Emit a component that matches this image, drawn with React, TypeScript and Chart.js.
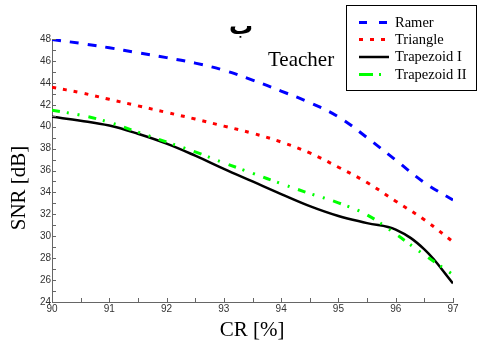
import React, { useEffect, useRef } from 'react';
import { Chart, registerables } from 'chart.js';

Chart.register(...registerables);

const crValues = [90, 90.5, 91, 91.5, 92, 92.5, 93, 93.5, 94, 94.5, 95, 95.5, 96, 96.5, 97];
const ramer = [47.95, 47.6, 47.2, 46.75, 46.3, 45.8, 45.15, 44.25, 43.25, 42.2, 40.9, 39.0, 36.95, 34.9, 33.3];
const triangle = [43.6, 43.1, 42.5, 41.9, 41.3, 40.7, 40.05, 39.4, 38.6, 37.6, 36.3, 34.9, 33.2, 31.5, 29.5];
const trapezoidI = [40.9, 40.55, 40.1, 39.35, 38.45, 37.35, 36.15, 35.0, 33.85, 32.75, 31.85, 31.2, 30.6, 28.8, 25.7];
const trapezoidII = [41.5, 41.05, 40.4, 39.5, 38.6, 37.7, 36.7, 35.75, 34.8, 33.9, 33.05, 31.95, 30.2, 28.3, 26.5];

const seriesNames = ['Ramer', 'Triangle', 'Trapezoid I', 'Trapezoid II'];
const seriesColors = ['#0000ff', '#ff0000', '#000000', '#00ff00'];
const seriesDashes = [[9, 9], [4, 7], [], [8, 7, 2, 9, 2, 9]];

const xMin = 90;
const xMax = 97;
const yMin = 24;
const yMax = 48;
const xLabel = 'CR [%]';
const yLabel = 'SNR [dB]';
const arabicTitle = 'ب';
const subTitle = 'Teacher';

const SERIF = "'Liberation Serif', 'Times New Roman', serif";
const SANS = "'Liberation Sans', Arial, sans-serif";

export default function App() {
  const ref = useRef<HTMLCanvasElement | null>(null);

  useEffect(() => {
    const canvas = ref.current;
    if (!canvas) return;
    const all = [ramer, triangle, trapezoidI, trapezoidII];
    const orders = [1, 2, 3, 0];
    const datasets = all.map((vals, i) => ({
      label: seriesNames[i],
      data: crValues.map((x, j) => ({ x, y: vals[j] })),
      borderColor: seriesColors[i],
      backgroundColor: seriesColors[i],
      borderDash: seriesDashes[i],
      borderWidth: i === 2 ? 2.5 : 3,
      pointRadius: 0,
      fill: false,
      tension: 0.4,
      order: orders[i],
    }));

    const overlay = {
      id: 'overlay',
      afterDraw(chart: any) {
        const ctx = chart.ctx as CanvasRenderingContext2D;
        const xs = chart.scales.x;
        const ys = chart.scales.y;
        const area = chart.chartArea;
        ctx.save();
        // inward ticks
        ctx.strokeStyle = '#666';
        ctx.lineWidth = 1;
        ctx.beginPath();
        for (let v = xMin; v <= xMax + 1e-9; v += 0.5) {
          const px = Math.round(xs.getPixelForValue(v)) + 0.5;
          ctx.moveTo(px, area.bottom);
          ctx.lineTo(px, area.bottom - 4);
        }
        for (let v = yMin; v <= yMax; v += 1) {
          const py = Math.round(ys.getPixelForValue(v)) + 0.5;
          ctx.moveTo(area.left, py);
          ctx.lineTo(area.left + 4, py);
        }
        ctx.stroke();

        // axis titles
        ctx.fillStyle = '#000';
        ctx.font = `21px ${SERIF}`;
        ctx.textAlign = 'center';
        ctx.textBaseline = 'middle';
        ctx.fillText(xLabel, 252, 330);
        ctx.save();
        ctx.translate(19, 188);
        ctx.rotate(-Math.PI / 2);
        ctx.fillText(yLabel, 0, 0);
        ctx.restore();

        // titles
        ctx.font = `bold 24px 'DejaVu Sans', sans-serif`;
        ctx.textAlign = 'center';
        ctx.textBaseline = 'alphabetic';
        ctx.fillText(arabicTitle, 241, 34);
        ctx.font = `21px ${SERIF}`;
        ctx.textAlign = 'left';
        ctx.fillText(subTitle, 268, 66);

        // legend
        ctx.fillStyle = '#fff';
        ctx.fillRect(346, 5, 131, 86);
        ctx.strokeStyle = '#000';
        ctx.lineWidth = 1;
        ctx.strokeRect(346.5, 5.5, 130, 85);
        const rows = [22.5, 39.5, 57, 74.5];
        ctx.font = `14.5px ${SERIF}`;
        ctx.textBaseline = 'middle';
        rows.forEach((ry, i) => {
          ctx.beginPath();
          ctx.strokeStyle = seriesColors[i];
          ctx.lineWidth = i === 2 ? 2.5 : 3;
          ctx.setLineDash(i === 0 ? [8, 12] : i === 3 ? [14, 6, 2, 9, 2, 9] : seriesDashes[i]);
          ctx.moveTo(359, ry);
          ctx.lineTo(389, ry);
          ctx.stroke();
          ctx.setLineDash([]);
          ctx.fillStyle = '#000';
          ctx.fillText(seriesNames[i], 395, ry + 0.5);
        });
        ctx.restore();
      },
    };

    const chart = new Chart(canvas, {
      type: 'line',
      data: { datasets },
      options: {
        animation: false,
        responsive: false,
        devicePixelRatio: 1,
        layout: { padding: { left: 0, top: 39, right: 25, bottom: 0 } },
        plugins: { legend: { display: false }, tooltip: { enabled: false } },
        scales: {
          x: {
            type: 'linear',
            min: xMin,
            max: xMax,
            grid: { display: false, drawTicks: false },
            border: { display: true, color: '#666', width: 1 },
            ticks: {
              stepSize: 1,
              padding: 1,
              color: '#333',
              font: { family: SANS, size: 10 },
              maxRotation: 0,
            },
            afterFit: (s: any) => { s.height = 42; },
          },
          y: {
            type: 'linear',
            min: yMin,
            max: yMax,
            grid: { display: false, drawTicks: false },
            border: { display: true, color: '#666', width: 1 },
            ticks: {
              stepSize: 2,
              padding: 1,
              color: '#333',
              font: { family: SANS, size: 10 },
            },
            afterFit: (s: any) => { s.width = 52; },
          },
        },
      },
      plugins: [overlay],
    });
    return () => chart.destroy();
  }, []);

  return (
    <div style={{ position: 'fixed', left: 0, top: 0, width: 478, height: 344, background: '#fff' }}>
      <canvas ref={ref} width={478} height={344} style={{ display: 'block' }} />
    </div>
  );
}
